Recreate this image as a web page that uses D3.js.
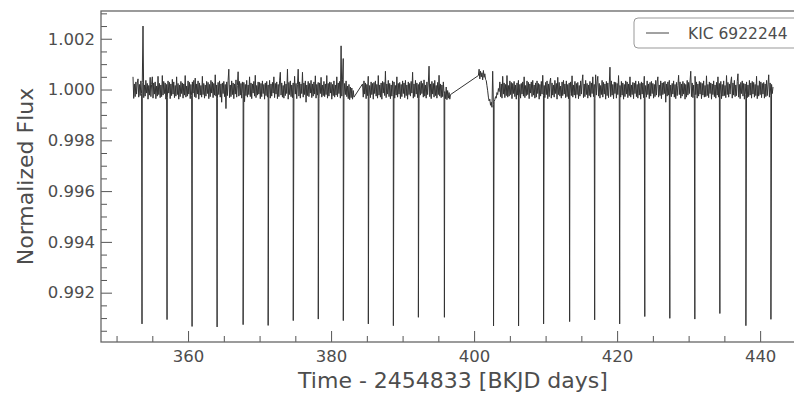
<!DOCTYPE html>
<html>
<head>
<meta charset="utf-8">
<script src="https://cdnjs.cloudflare.com/ajax/libs/d3/7.8.5/d3.min.js"></script>
<style>
  body { margin: 0; background: #fff; }
  svg { display: block; font-family: "DejaVu Sans", sans-serif; }
  .tick text { fill: #4d4d4d; }
</style>
</head>
<body>
<svg width="794" height="393"></svg>
<script>
// light curve of KIC 6922244
const cadence = 0.1;                        // days between samples
const segStart = [352.3, 384.4, 400.6];     // start time of each data segment
// flux minus 1, in units of 1e-5, one value per sample
const seg1 = [
  50,-35,22,-28,30,-18,26,42,-30,20,
  -24,34,-16,28,250,-32,18,-26,36,-14,
  24,-38,16,-22,48,-28,20,50,-34,26,
  -18,30,-36,14,-26,52,-20,24,-32,18,
  -28,55,-22,32,-16,26,-38,20,-30,34,
  -14,28,-36,22,-24,40,-18,30,-32,16,
  -26,50,-20,24,-38,18,-28,32,-16,26,
  -34,22,-22,55,-30,14,-26,34,-18,28,
  -36,20,-24,30,-14,36,-28,45,-32,22,
  -18,34,-38,26,-22,16,-30,52,-20,24,
  -34,18,-26,32,-16,28,-36,20,-28,36,
  -14,30,-32,24,-22,58,-26,18,-34,28,
  -20,34,-30,22,-50,26,-16,32,-28,20,
  -75,30,-24,36,80,-32,18,-28,34,-20,
  26,-36,22,-18,38,-30,16,70,-26,32,
  -22,24,-34,30,-16,28,-48,20,-24,36,
  -30,18,-20,50,-28,26,-36,22,-14,32,
  -26,56,-32,16,-22,30,-18,28,-36,24,
  -28,34,-16,20,-38,26,-24,32,-30,18,
  -20,36,-34,22,-26,28,-14,50,-32,24,
  -18,30,-36,20,-28,34,68,-22,26,-30,
  16,-34,32,-24,22,-16,80,-38,28,-20,
  34,-28,18,-32,26,-22,52,-18,24,-36,
  20,80,-26,30,-34,22,-16,68,-30,26,
  -20,34,-50,18,-24,32,-28,24,-14,36,
  -32,22,-26,30,-18,54,-34,20,-22,28,
  -36,26,-16,48,-30,18,-24,32,-28,22,
  -20,55,-34,24,-26,30,-14,28,-38,20,
  -24,34,-30,18,-22,50,-28,26,-16,32,
  -34,172,-26,38,122,-30,24,-20,34,-28,
  14,-36,20,-40,10,-32,6,-38,-4,-30
];
const seg2 = [
  22,-30,34,-18,26,-36,20,-24,52,-28,
  16,-32,30,-20,24,-38,28,-16,34,-26,
  20,-34,55,-22,18,-30,26,-38,32,-14,
  28,-24,72,-32,22,-18,36,-28,24,-36,
  18,-26,34,-20,30,-34,16,-22,50,-30,
  24,-18,28,-36,20,-28,34,-16,26,-32,
  36,-24,18,-38,30,-20,24,-26,32,-14,
  68,-34,22,-28,36,-18,26,-32,20,-36,
  28,-22,34,-16,24,-30,38,-26,18,-34,
  30,-20,26,92,-28,22,-36,32,-18,24,
  -30,36,-24,16,-34,28,-20,56,-26,22,
  -32,18,-28,30,-16,-8,-36,10,-40,-4,
  -34,-12,-38,-20
];
const seg3 = [
  55,80,42,72,50,66,38,75,48,62,
  40,35,15,-5,-30,-45,-38,-62,-50,-70,
  72,-58,-48,-40,-28,-34,-12,-20,4,-8,
  30,-28,22,-34,52,-18,26,-32,20,-24,
  55,-30,16,-26,34,-20,28,-36,24,-16,
  32,-28,18,-38,26,-22,36,-30,20,-34,
  24,-18,30,-26,50,-32,16,-24,34,-20,
  28,-36,22,-14,30,-28,36,-22,18,-34,
  26,-30,34,-16,24,-38,20,-26,32,-18,
  56,-24,16,-32,28,-20,34,-36,22,-28,
  30,45,-34,26,-22,18,-30,36,-16,24,
  -38,48,-20,28,-26,14,-34,30,-24,36,
  -18,22,-32,34,-28,20,-36,26,-16,30,
  -24,54,-30,18,-22,32,-34,24,-20,28,
  -36,16,-26,34,-18,30,58,-32,22,-28,
  36,-20,24,-34,18,-24,32,-30,26,-16,
  50,-28,20,-36,58,-22,30,52,-26,24,
  -34,16,-20,36,-30,28,-18,22,-38,32,
  -24,26,-32,18,88,-28,34,-22,20,-36,
  30,-16,28,-34,24,-20,55,-26,16,-30,
  32,-22,26,-38,20,-28,34,-18,30,-32,
  22,-24,50,-30,18,-20,28,-36,26,-16,
  34,-28,20,-34,32,-22,24,-38,30,-18,
  26,-32,52,-24,16,-30,34,-20,22,-36,
  28,-26,32,-16,24,-34,20,-28,36,-22,
  30,50,-30,18,-24,34,-36,26,-20,28,
  -16,32,-50,22,-26,30,-22,36,-32,18,
  -28,24,-18,34,-30,20,-36,28,-24,16,
  56,-20,30,-34,22,-26,32,-18,24,-38,
  20,-30,36,-22,28,-16,34,72,-28,26,
  -32,18,-24,52,-20,30,-34,22,-26,32,
  -18,28,-36,24,-22,34,-30,16,-28,54,
  -24,20,-32,30,-16,26,-38,22,-20,34,
  -28,18,-34,28,-22,50,-30,24,-18,32,
  -36,20,-26,34,-24,16,-32,55,-20,28,
  -30,22,-18,30,50,-34,26,-22,36,-28,
  18,-24,32,62,-30,20,-36,28,-16,34,
  -26,24,-38,22,-20,30,-32,18,-28,36,
  -22,26,-34,32,-18,28,-30,20,-24,52,
  -36,16,-26,34,-20,30,-32,24,-18,28,
  -34,22,-28,36,-24,18,58,-30,26,-22,
  20,-16,10
];
// transit mid-times and the flux at the bottom of each dip
const transitTimes = [353.56, 357.06, 360.56, 364.06, 367.70, 371.20, 374.71, 378.21, 381.71,
  385.21, 388.71, 392.21, 395.85, 402.72, 406.22, 409.72, 413.36, 416.86, 420.36, 423.87,
  427.37, 430.87, 434.37, 438.01, 441.51];
const transitFlux = [0.99077, 0.99094, 0.99067, 0.99065, 0.99074, 0.99071, 0.99090, 0.99096, 0.99090,
  0.99077, 0.99070, 0.99103, 0.99103, 0.99069, 0.99069, 0.99077, 0.99086, 0.99093, 0.99077, 0.99106,
  0.99099, 0.99096, 0.99118, 0.99070, 0.99095];
const xTicks = [360, 380, 400, 420, 440];
const yTicks = [0.992, 0.994, 0.996, 0.998, 1.000, 1.002];
const legendLabel = 'KIC 6922244';

const svg = d3.select('svg');
const margin = { top: 11, right: -11, bottom: 51, left: 101 };
const width = 794 - margin.left - margin.right;
const height = 393 - margin.top - margin.bottom;

// build the points of the light curve
const points = [];
[seg1, seg2, seg3].forEach((seg, s) => {
  seg.forEach((v, i) => points.push({ t: segStart[s] + i * cadence, f: 1 + v * 1e-5 }));
});
transitTimes.forEach((t, i) => points.push({ t: t, f: transitFlux[i] }));
points.sort((a, b) => a.t - b.t);

// matplotlib style 5% margins
const tExt = d3.extent(points, d => d.t);
const fExt = d3.extent(points, d => d.f);
const tPad = (tExt[1] - tExt[0]) * 0.05;
const fPad = (fExt[1] - fExt[0]) * 0.05;

const x = d3.scaleLinear().domain([tExt[0] - tPad, tExt[1] + tPad]).range([0, width]);
const y = d3.scaleLinear().domain([fExt[0] - fPad, fExt[1] + fPad]).range([height, 0]);

const g = svg.append('g').attr('transform', `translate(${margin.left},${margin.top})`);

g.append('clipPath').attr('id', 'plotClip')
  .append('rect').attr('width', width).attr('height', height);

// the curve
g.append('path')
  .datum(points)
  .attr('clip-path', 'url(#plotClip)')
  .attr('fill', 'none')
  .attr('stroke', '#333')
  .attr('stroke-width', 1)
  .attr('stroke-linejoin', 'round')
  .attr('d', d3.line().x(d => x(d.t)).y(d => y(d.f)));

// axes, ticks pointing inward
const xMinor = d3.range(350, 450, 5).filter(v => !xTicks.includes(v));
const yMinor = d3.range(0, 26).map(i => 0.9905 + i * 0.0005)
  .filter(v => !yTicks.some(t => Math.abs(t - v) < 1e-7));

const xAxisMinor = g.append('g').attr('transform', `translate(0,${height})`)
  .call(d3.axisBottom(x).tickValues(xMinor).tickSize(-6).tickFormat(''));
const xAxis = g.append('g').attr('transform', `translate(0,${height})`)
  .call(d3.axisBottom(x).tickValues(xTicks).tickSize(-11).tickPadding(8).tickFormat(d3.format('d')));
const yAxisMinor = g.append('g')
  .call(d3.axisLeft(y).tickValues(yMinor).tickSize(-6).tickFormat(''));
const yAxis = g.append('g')
  .call(d3.axisLeft(y).tickValues(yTicks).tickSize(-11).tickPadding(6).tickFormat(d3.format('.3f')));

[xAxisMinor, xAxis, yAxisMinor, yAxis].forEach(a => {
  a.attr('font-family', null).attr('font-size', null);
  a.select('.domain').remove();
  a.selectAll('.tick line').attr('stroke', '#555').attr('stroke-width', 1);
});
xAxis.selectAll('.tick text').attr('font-size', 16.5).attr('dy', '0.75em');
yAxis.selectAll('.tick text').attr('font-size', 16.5).attr('x', -6);

// spines
g.append('rect')
  .attr('width', width).attr('height', height)
  .attr('fill', 'none').attr('stroke', '#666').attr('stroke-width', 1.3);

// axis titles
g.append('text')
  .text('Time - 2454833 [BKJD days]')
  .attr('x', width / 2).attr('y', height + 46)
  .attr('text-anchor', 'middle').attr('font-size', 22).attr('fill', '#4d4d4d');
g.append('text')
  .text('Normalized Flux')
  .attr('transform', `translate(${-68},${height / 2}) rotate(-90)`)
  .attr('text-anchor', 'middle').attr('font-size', 22).attr('fill', '#4d4d4d');

// legend
const legend = g.append('g').attr('transform', `translate(${533},${7})`);
legend.append('rect')
  .attr('width', 175).attr('height', 30).attr('rx', 4)
  .attr('fill', '#fff').attr('stroke', '#999').attr('stroke-width', 1);
legend.append('line')
  .attr('x1', 12).attr('x2', 35).attr('y1', 15).attr('y2', 15)
  .attr('stroke', '#444').attr('stroke-width', 1);
legend.append('text')
  .text(legendLabel)
  .attr('x', 54).attr('y', 20.5)
  .attr('font-size', 15.5).attr('fill', '#4d4d4d');
</script>
</body>
</html>
